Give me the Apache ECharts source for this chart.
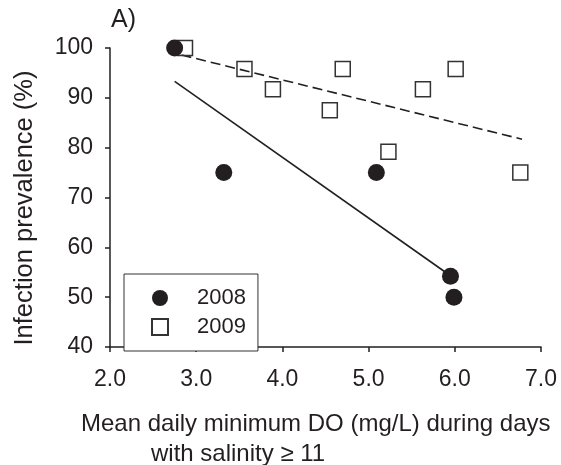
<!DOCTYPE html>
<html>
<head>
<meta charset="utf-8">
<script src="https://cdn.jsdelivr.net/npm/echarts@6/dist/echarts.min.js"></script>
<style>
  html, body { margin: 0; padding: 0; background: #fff; }
  #chart { width: 561px; height: 465px; }
</style>
</head>
<body>
<div id="chart"></div>
<script>
// 2008 observations (DO mg/L, prevalence %)
const do2008 = [2.75, 3.32, 5.09, 5.95, 5.99];
const prev2008 = [100, 75, 75, 54.2, 50];

// 2009 observations
const do2009 = [2.87, 3.56, 3.89, 4.55, 4.70, 5.23, 5.63, 6.01, 6.76];
const prev2009 = [100, 95.8, 91.7, 87.5, 95.8, 79.2, 91.7, 95.8, 75];

// fitted regression lines, end points
const fit2008X = [2.75, 5.95];
const fit2008Y = [93.3, 54.3];
const fit2009X = [2.83, 6.78];
const fit2009Y = [98.6, 81.7];

const xTicks = [2, 3, 4, 5, 6, 7];
const yTicks = [40, 50, 60, 70, 80, 90, 100];

const ink = '#231f20';
const font = '"Liberation Sans", Arial, sans-serif';

const pairs = (xs, ys) => xs.map((x, i) => [x, ys[i]]);

const chart = echarts.init(document.getElementById('chart'));

const option = {
  animation: false,
  backgroundColor: '#fff',
  textStyle: { fontFamily: font, color: ink },
  grid: { left: 110, right: 20, top: 48, bottom: 118 },
  xAxis: {
    type: 'value',
    min: xTicks[0],
    max: xTicks[xTicks.length - 1],
    interval: 1,
    axisLine: { lineStyle: { color: ink, width: 1.5 } },
    axisTick: { inside: false, length: 5, lineStyle: { color: ink, width: 1.5 } },
    axisLabel: {
      margin: 21, fontSize: 23, color: ink, fontFamily: font,
      formatter: v => v.toFixed(1)
    },
    splitLine: { show: false }
  },
  yAxis: {
    type: 'value',
    min: yTicks[0],
    max: yTicks[yTicks.length - 1],
    interval: 10,
    axisLine: { show: true, lineStyle: { color: ink, width: 1.5 } },
    axisTick: { show: true, inside: false, length: 5, lineStyle: { color: ink, width: 1.5 } },
    axisLabel: { margin: 17, fontSize: 23, color: ink, fontFamily: font },
    splitLine: { show: false }
  },
  legend: {
    orient: 'vertical',
    left: 124,
    top: 274,
    padding: [13, 12, 13, 27],
    itemGap: 7,
    itemWidth: 16,
    itemHeight: 16,
    borderColor: '#333',
    borderWidth: 1,
    backgroundColor: '#fff',
    textStyle: { fontSize: 22, color: ink, fontFamily: font, padding: [0, 0, 0, 24], lineHeight: 20 },
    data: ['2008', '2009']
  },
  graphic: [
    { type: 'text', left: 111, top: 8, style: { text: 'A)', font: '25px ' + font, fill: ink } },
    {
      type: 'text', x: 25, y: 208, rotation: Math.PI / 2,
      style: { text: 'Infection prevalence (%)', font: '25.5px ' + font, fill: ink, align: 'center', verticalAlign: 'middle' }
    },
    { type: 'text', left: 81, top: 412, style: { text: 'Mean daily minimum DO (mg/L) during days', font: '24px ' + font, fill: ink } },
    { type: 'text', left: 151, top: 442, style: { text: 'with salinity \u2265 11', font: '24px ' + font, fill: ink } }
  ],
  series: [
    {
      name: 'fit2009',
      type: 'line',
      data: pairs(fit2009X, fit2009Y),
      symbol: 'none',
      lineStyle: { color: ink, width: 1.6, type: [10, 5] },
      z: 1
    },
    {
      name: 'fit2008',
      type: 'line',
      data: pairs(fit2008X, fit2008Y),
      symbol: 'none',
      lineStyle: { color: ink, width: 1.6 },
      z: 1
    },
    {
      name: '2009',
      type: 'scatter',
      data: pairs(do2009, prev2009),
      symbol: 'rect',
      symbolSize: 15,
      itemStyle: { color: 'rgba(255,255,255,0)', borderColor: '#333', borderWidth: 1.5, opacity: 1 },
      z: 2
    },
    {
      name: '2008',
      type: 'scatter',
      data: pairs(do2008, prev2008),
      symbol: 'circle',
      symbolSize: 17,
      itemStyle: { color: ink, opacity: 1 },
      z: 3
    }
  ]
};

chart.setOption(option);
</script>
</body>
</html>
